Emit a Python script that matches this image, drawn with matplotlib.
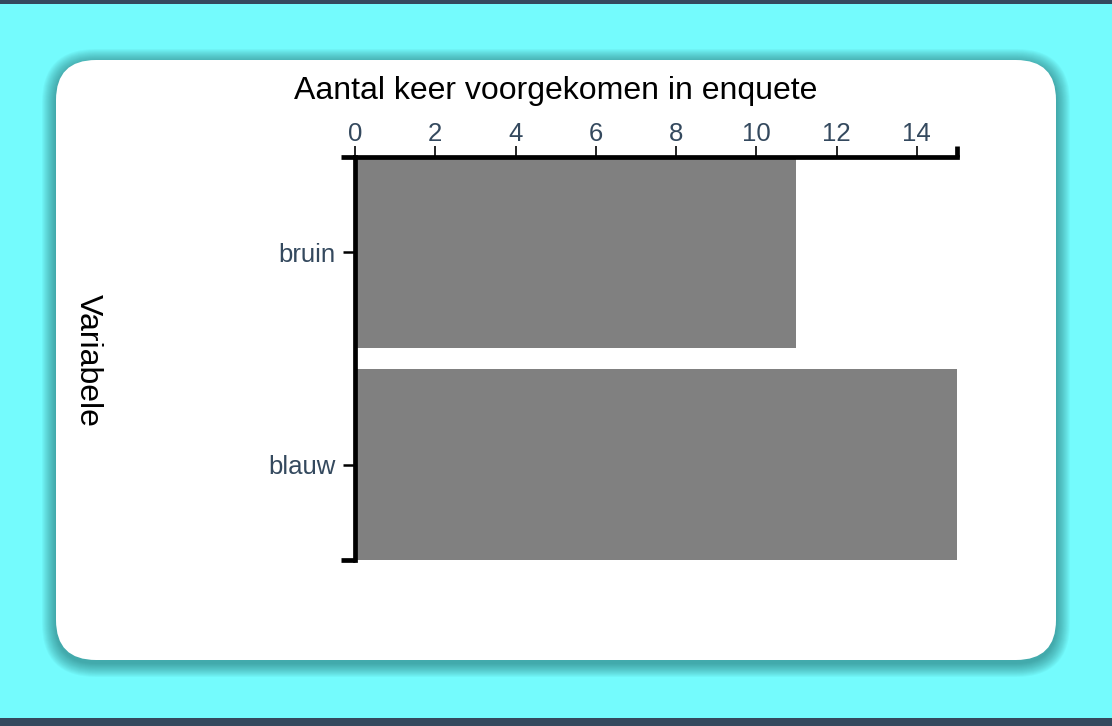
import matplotlib
matplotlib.use("Agg")
from matplotlib import pyplot as plt
from matplotlib.patches import FancyBboxPatch, Rectangle

# data
categories = ['bruin', 'blauw']
counts = [11, 15]
x_ticks = [0, 2, 4, 6, 8, 10, 12, 14]
x_max = 15

plt.rcParams['font.family'] = ['Liberation Sans', 'DejaVu Sans']

W, H = 1112, 726
fig = plt.figure(figsize=(W / 100, H / 100), dpi=100)
fig.patch.set_facecolor('#74fbfd')

# background layer in pixel units
bg = fig.add_axes([0, 0, 1, 1], zorder=-1)
bg.set_xlim(0, W)
bg.set_ylim(H, 0)
bg.axis('off')
bg.add_patch(Rectangle((0, 0), W, 4, color='#34495e', lw=0))
bg.add_patch(Rectangle((0, 718), W, 8, color='#34495e', lw=0))

cx, cy, cw, ch, r = 56, 60, 1000, 600, 40
# soft shadow around the card
for i in range(14, 0, -1):
    bg.add_patch(FancyBboxPatch((cx - i, cy - i + 3), cw + 2 * i, ch + 2 * i,
                                boxstyle="round,pad=0,rounding_size=%d" % (r + i),
                                fc='#15585a', ec='none', alpha=0.045))
bg.add_patch(FancyBboxPatch((cx, cy), cw, ch,
                            boxstyle="round,pad=0,rounding_size=%d" % r,
                            fc='white', ec='none'))

# main chart area
left, right, top, bottom = 355, 957, 157, 560
ax = fig.add_axes([left / W, 1 - bottom / H, (right - left) / W, (bottom - top) / H])
ax.set_facecolor('none')

ypos = list(range(len(categories)))
ax.barh(ypos, counts, height=0.9, color='#808080')
ax.set_xlim(0, x_max)
ax.set_ylim(len(categories) - 0.55, -0.45)

lw = 3.4
for s in ['right', 'bottom']:
    ax.spines[s].set_visible(False)
ax.spines['top'].set_linewidth(lw)
ax.spines['left'].set_linewidth(lw)

ax.xaxis.tick_top()
ax.set_xticks(x_ticks)
ax.set_xticks([0, x_max], minor=True)
ax.tick_params(axis='x', which='major', length=8, width=1.2, color='black',
               labelsize=18.5, labelcolor='#34495e', pad=0)
ax.tick_params(axis='x', which='minor', length=8, width=lw, color='black', top=True, bottom=False)

ax.set_yticks(ypos)
ax.set_yticklabels(categories)
ax.set_yticks([-0.45, len(categories) - 0.55], minor=True)
ax.tick_params(axis='y', which='major', length=9, width=1.8, color='black',
               labelsize=18.5, labelcolor='#34495e', pad=5)
ax.tick_params(axis='y', which='minor', length=10, width=lw, color='black')

fig.text(556 / W, 1 - 91 / H, 'Aantal keer voorgekomen in enquete',
         ha='center', va='center', fontsize=23, color='black')
fig.text(88 / W, 1 - 360 / H, 'Variabele', rotation=270,
         ha='center', va='center', fontsize=23, color='black')

fig.savefig('out.png', dpi=100, facecolor=fig.get_facecolor())
